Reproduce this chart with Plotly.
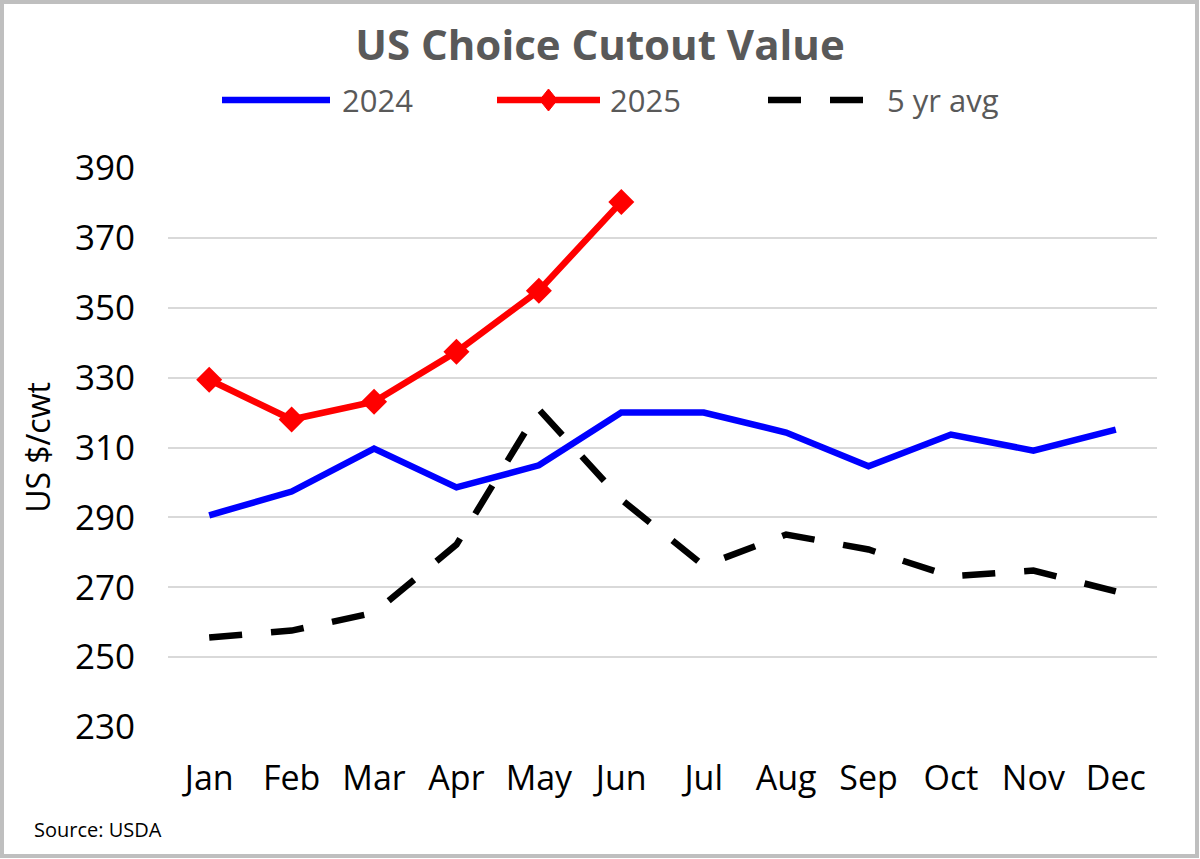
import plotly.graph_objects as go

months = ["Jan", "Feb", "Mar", "Apr", "May", "Jun", "Jul", "Aug", "Sep", "Oct", "Nov", "Dec"]
v2024 = [290.6, 297.4, 309.7, 298.6, 304.9, 320.0, 320.0, 314.3, 304.6, 313.7, 309.1, 315.1]
v2025 = [329.4, 318.0, 323.1, 337.4, 354.9, 380.3]
v5yr = [255.6, 257.6, 262.7, 282.2, 320.9, 295.1, 276.2, 285.1, 280.8, 273.1, 274.8, 268.8]
yticks = [230, 250, 270, 290, 310, 330, 350, 370, 390]
series_names = ["2024", "2025", "5 yr avg"]
colors = ["#0000ff", "#ff0000", "#000000"]

FONT = "Open Sans"
DASH = "33px,29px"
fig = go.Figure()
fig.add_trace(go.Scatter(x=months, y=v2024, name=series_names[0], mode="lines",
                         line=dict(color=colors[0], width=6.5)))
fig.add_trace(go.Scatter(x=months[:len(v2025)], y=v2025, name=series_names[1], mode="lines+markers",
                         line=dict(color=colors[1], width=6.5),
                         marker=dict(symbol="diamond", size=20, color=colors[1])))
fig.add_trace(go.Scatter(x=months, y=v5yr, name=series_names[2], mode="lines",
                         line=dict(color=colors[2], width=6.5, dash=DASH)))

L, R, T, B = 168, 43, 168, 132
W, H = 1200, 859
pw, ph = W - L - R, H - T - B


def px(x):
    return (x - L) / pw


def py(y):
    return (H - B - y) / ph


fig.update_layout(
    width=W, height=H,
    margin=dict(l=L, r=R, t=T, b=B),
    paper_bgcolor="white", plot_bgcolor="white",
    font=dict(family=FONT, color="black"),
    title=dict(text="<b>US Choice Cutout Value</b>", x=0.5, xanchor="center",
               y=1 - 45 / H, yanchor="middle",
               font=dict(size=42, color="#595959", family=FONT)),
    showlegend=False,
)
fig.update_xaxes(type="category", range=[-0.5, 11.5], showgrid=False, zeroline=False,
                 showline=False, ticks="", tickfont=dict(size=34, color="black"),
                 ticklabelstandoff=28)
fig.update_yaxes(range=[230, 390], tickvals=yticks, showgrid=True, gridcolor="#d9d9d9",
                 gridwidth=2, zeroline=False, showline=False, ticks="",
                 tickfont=dict(size=35, color="black"), ticklabelstandoff=32,
                 title=dict(text="US $/cwt", font=dict(size=32, color="black"), standoff=14))

# manual legend (pixel positions from reference)
LY = 100
leg = [
    (222, 330, 340, dict(color=colors[0], width=6.5)),
    (497, 600, 608, dict(color=colors[1], width=6.5)),
    (768, 866, 885, dict(color=colors[2], width=6.5, dash=DASH)),
]
for (x0, x1, tx, ln), name in zip(leg, series_names):
    fig.add_shape(type="line", xref="paper", yref="paper", x0=px(x0), x1=px(x1),
                  y0=py(LY), y1=py(LY), line=ln)
    fig.add_annotation(text=name, xref="paper", yref="paper", x=px(tx), y=py(LY),
                       xanchor="left", yanchor="middle", showarrow=False,
                       font=dict(size=31, color="#595959", family=FONT))
cx = (leg[1][0] + leg[1][1]) / 2
d = 11
fig.add_shape(type="path", xref="paper", yref="paper",
              path=f"M {px(cx)},{py(LY - d)} L {px(cx + d * 0.8)},{py(LY)} L {px(cx)},{py(LY + d)} L {px(cx - d * 0.8)},{py(LY)} Z",
              fillcolor=colors[1], line=dict(color=colors[1], width=1))

fig.add_annotation(text="Source: USDA", xref="paper", yref="paper",
                   x=px(32), y=py(829), xanchor="left", yanchor="middle",
                   showarrow=False, font=dict(size=20, color="black", family=FONT))

fig.add_shape(type="rect", xref="paper", yref="paper",
              x0=px(2), x1=px(W - 3), y0=py(H - 3), y1=py(2),
              line=dict(color="#bfbfbf", width=4), fillcolor="rgba(0,0,0,0)", layer="below")

fig.write_html("out.html", config={"displayModeBar": False},
               post_script="document.body.style.margin='0';")
